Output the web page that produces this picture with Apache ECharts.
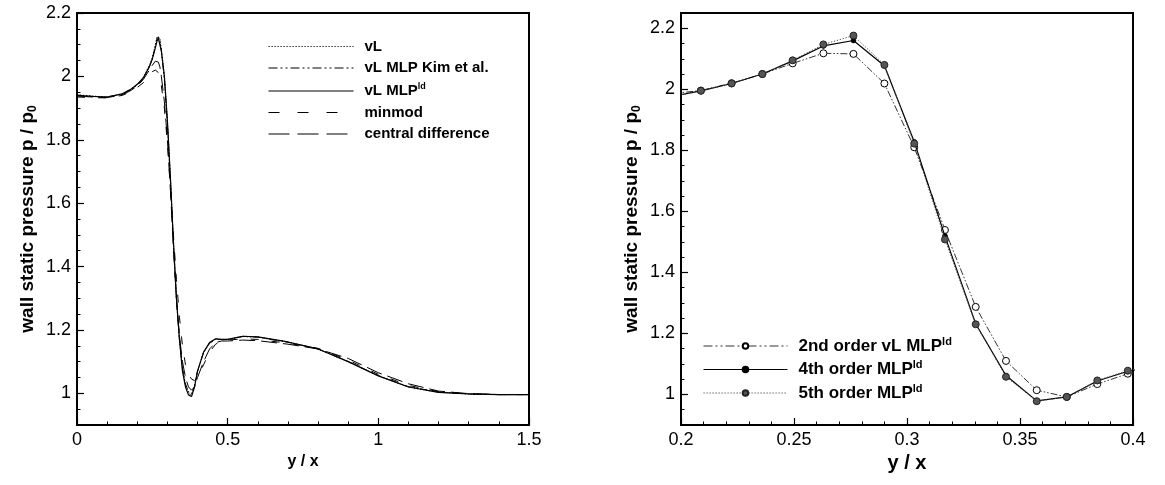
<!DOCTYPE html>
<html><head><meta charset="utf-8">
<script src="https://cdn.jsdelivr.net/npm/echarts@6/dist/echarts.min.js"></script>
<style>html,body{margin:0;padding:0;background:#fff}#c{width:1165px;height:485px}</style>
</head><body><div id="c"></div>
<script>
// ---------- left panel data ----------
const xLeft = [0, 0.05, 0.1, 0.15, 0.18, 0.2, 0.22, 0.24, 0.25, 0.26, 0.265, 0.27, 0.275, 0.28, 0.29, 0.30, 0.31, 0.32, 0.33, 0.34, 0.35, 0.36, 0.37, 0.38, 0.39, 0.40, 0.42, 0.44, 0.46, 0.48, 0.5, 0.55, 0.6, 0.7, 0.8, 0.9, 1.0, 1.1, 1.2, 1.3, 1.4, 1.5];
const vL        = [1.942, 1.938, 1.935, 1.945, 1.96, 1.975, 1.997, 2.035, 2.06, 2.10, 2.125, 2.13, 2.12, 2.085, 2.0, 1.86, 1.68, 1.48, 1.30, 1.17, 1.075, 1.025, 1.0, 0.995, 1.02, 1.07, 1.13, 1.16, 1.172, 1.17, 1.17, 1.18, 1.178, 1.162, 1.14, 1.10, 1.055, 1.02, 1.003, 0.998, 0.996, 0.996];
const vLKim     = [1.941, 1.937, 1.935, 1.944, 1.958, 1.973, 1.995, 2.03, 2.055, 2.095, 2.118, 2.125, 2.115, 2.08, 1.99, 1.85, 1.67, 1.47, 1.295, 1.17, 1.08, 1.03, 1.005, 1.0, 1.022, 1.07, 1.128, 1.158, 1.17, 1.169, 1.17, 1.179, 1.177, 1.161, 1.14, 1.10, 1.056, 1.021, 1.004, 0.998, 0.996, 0.996];
const vLMLPld   = [1.94, 1.937, 1.935, 1.945, 1.96, 1.975, 1.995, 2.03, 2.055, 2.09, 2.11, 2.12, 2.115, 2.08, 2.0, 1.86, 1.68, 1.48, 1.30, 1.17, 1.07, 1.02, 0.995, 0.99, 1.02, 1.07, 1.13, 1.16, 1.172, 1.17, 1.17, 1.18, 1.178, 1.162, 1.14, 1.10, 1.055, 1.02, 1.003, 0.998, 0.996, 0.996];
const minmod    = [1.935, 1.933, 1.932, 1.94, 1.952, 1.965, 1.98, 2.005, 2.015, 2.02, 2.02, 2.012, 2.0, 1.97, 1.90, 1.79, 1.65, 1.50, 1.36, 1.24, 1.15, 1.09, 1.06, 1.045, 1.04, 1.05, 1.09, 1.13, 1.155, 1.165, 1.168, 1.172, 1.17, 1.158, 1.142, 1.105, 1.06, 1.025, 1.005, 0.998, 0.996, 0.996];
const central   = [1.938, 1.935, 1.933, 1.942, 1.956, 1.97, 1.99, 2.02, 2.035, 2.048, 2.05, 2.045, 2.03, 2.0, 1.92, 1.80, 1.64, 1.46, 1.30, 1.18, 1.10, 1.05, 1.02, 1.01, 1.02, 1.05, 1.10, 1.14, 1.16, 1.165, 1.165, 1.168, 1.166, 1.155, 1.14, 1.11, 1.065, 1.03, 1.007, 0.999, 0.996, 0.996];

// ---------- right panel data ----------
const xRight = [0.1952, 0.2088, 0.2224, 0.236, 0.2494, 0.263, 0.2763, 0.29, 0.3032, 0.3168, 0.3304, 0.3438, 0.3574, 0.3707, 0.3842, 0.3977, 0.4112];
const order2 = [1.985, 1.996, 2.02, 2.05, 2.085, 2.118, 2.116, 2.019, 1.81, 1.539, 1.287, 1.11, 1.014, 0.992, 1.034, 1.068, 1.09];
const order4 = [1.975, 1.995, 2.019, 2.05, 2.093, 2.142, 2.16, 2.077, 1.828, 1.519, 1.232, 1.062, 0.979, 0.992, 1.044, 1.076, 1.095];
const order5 = [1.975, 1.995, 2.019, 2.05, 2.095, 2.147, 2.176, 2.08, 1.822, 1.508, 1.23, 1.058, 0.978, 0.992, 1.046, 1.078, 1.097];

// ---------- ticks ----------
const yMajorTicks = [1, 1.2, 1.4, 1.6, 1.8, 2, 2.2];
const yMinorTicks = [0.95, 1.05, 1.1, 1.15, 1.25, 1.3, 1.35, 1.45, 1.5, 1.55, 1.65, 1.7, 1.75, 1.85, 1.9, 1.95, 2.05, 2.1, 2.15];

const FONT = '"Liberation Sans", Arial, Helvetica, sans-serif';
const pair = (xs, ys) => xs.map((x, i) => [x, ys[i]]);
const supFmt = n => n.replace('^ld', '{sup|ld}');

const DOT = [1.2, 1.8], DASHDOT = [7, 2, 1.5, 2, 1.5, 2], SHORTDASH = [8, 13], LONGDASH = [16, 6];
const LEG_SHORTDASH = [11, 18], LEG_LONGDASH = [21, 8], LEG_DASHDOT = [9, 3, 2, 3, 2, 3];

const grids = [
  { left: 77, top: 13, width: 452, height: 412, show: true, borderColor: '#000', borderWidth: 2, containLabel: false },
  { left: 681, top: 13, width: 452, height: 412, show: true, borderColor: '#000', borderWidth: 2, containLabel: false }
];

function xAx(gi, min, max, interval, nameSize, nameGap) {
  return {
    type: 'value', gridIndex: gi, min, max, interval,
    name: 'y / x', nameLocation: 'middle', nameGap,
    nameTextStyle: { fontFamily: FONT, fontWeight: 'bold', fontSize: nameSize, color: '#000' },
    axisLine: { show: true, lineStyle: { color: '#000', width: 2 } },
    axisTick: { show: true, inside: true, length: 7, lineStyle: { color: '#000', width: 1.2 } },
    minorTick: { show: true, splitNumber: 5, length: 3.5, lineStyle: { color: '#000', width: 1 } },
    axisLabel: { fontFamily: FONT, fontSize: 18, color: '#000', margin: 6 },
    splitLine: { show: false }, minorSplitLine: { show: false }
  };
}
function yMajor(gi, max) {
  return {
    type: 'value', gridIndex: gi, min: 0.9, max, position: 'left',
    name: 'wall static pressure p / p{sub|0}', nameLocation: 'middle', nameGap: 38,
    nameTextStyle: { fontFamily: FONT, fontWeight: 'bold', fontSize: 19, color: '#000',
      rich: { sub: { fontFamily: FONT, fontWeight: 'bold', fontSize: 12, color: '#000', padding: [10, 0, 0, 0] } } },
    axisLine: { show: true, lineStyle: { color: '#000', width: 2 } },
    axisTick: { show: true, inside: true, length: 7, customValues: yMajorTicks, lineStyle: { color: '#000', width: 1.2 } },
    axisLabel: { fontFamily: FONT, fontSize: 18, color: '#000', margin: 6, customValues: yMajorTicks },
    splitLine: { show: false }
  };
}
function yMinor(gi, max) {
  return {
    type: 'value', gridIndex: gi, min: 0.9, max, position: 'left', offset: 0,
    axisLine: { show: false },
    axisTick: { show: true, inside: true, length: 3.5, customValues: yMinorTicks, lineStyle: { color: '#000', width: 1 } },
    axisLabel: { show: false }, splitLine: { show: false }
  };
}

const lineBase = { type: 'line', showSymbol: false, symbol: 'none', animation: false, z: 3, itemStyle: { color: '#000' } };
const series = [
  Object.assign({}, lineBase, { name: 'vL', xAxisIndex: 0, yAxisIndex: 0, data: pair(xLeft, vL),
    lineStyle: { color: '#000', width: 1, type: DOT } }),
  Object.assign({}, lineBase, { name: 'vL MLP Kim et al.', xAxisIndex: 0, yAxisIndex: 0, data: pair(xLeft, vLKim),
    lineStyle: { color: '#000', width: 1, type: DASHDOT } }),
  Object.assign({}, lineBase, { name: 'vL MLP^ld', xAxisIndex: 0, yAxisIndex: 0, data: pair(xLeft, vLMLPld),
    lineStyle: { color: '#000', width: 1.2, type: 'solid' } }),
  Object.assign({}, lineBase, { name: 'minmod', xAxisIndex: 0, yAxisIndex: 0, data: pair(xLeft, minmod),
    lineStyle: { color: '#000', width: 1, type: SHORTDASH } }),
  Object.assign({}, lineBase, { name: 'central difference', xAxisIndex: 0, yAxisIndex: 0, data: pair(xLeft, central),
    lineStyle: { color: '#000', width: 1, type: LONGDASH } }),
  { type: 'line', name: '2nd order vL MLP^ld', xAxisIndex: 1, yAxisIndex: 2, data: pair(xRight, order2), animation: false,
    symbol: 'circle', symbolSize: 7, showSymbol: true,
    itemStyle: { color: '#fff', borderColor: '#000', borderWidth: 1 },
    lineStyle: { color: '#333', width: 1, type: DASHDOT }, z: 3 },
  { type: 'line', name: '4th order MLP^ld', xAxisIndex: 1, yAxisIndex: 2, data: pair(xRight, order4), animation: false,
    symbol: 'circle', symbolSize: 5, showSymbol: true,
    itemStyle: { color: '#000', borderColor: '#000', borderWidth: 0.5 },
    lineStyle: { color: '#000', width: 1.2, type: 'solid' }, z: 4 },
  { type: 'line', name: '5th order MLP^ld', xAxisIndex: 1, yAxisIndex: 2, data: pair(xRight, order5), animation: false,
    symbol: 'circle', symbolSize: 7, showSymbol: true,
    itemStyle: { color: '#555', borderColor: '#222', borderWidth: 1 },
    lineStyle: { color: '#444', width: 1, type: DOT }, z: 5 }
];

const legendText = (size) => ({ fontFamily: FONT, fontWeight: 'bold', fontSize: size, color: '#000', padding: [0, 0, 0, 6],
  rich: { sup: { fontFamily: FONT, fontWeight: 'bold', fontSize: Math.round(size * 0.62), color: '#000', padding: [0, 0, 9, 0] } } });
const legItem = (name, type, color) => ({ name, lineStyle: { type, width: 1, color: color || '#000' } });

const option = {
  animation: false,
  backgroundColor: '#fff',
  grid: grids,
  xAxis: [xAx(0, 0, 1.5, 0.5, 16, 26), xAx(1, 0.2, 0.4, 0.05, 20, 28)],
  yAxis: [yMajor(0, 2.2), yMinor(0, 2.2), yMajor(1, 2.25), yMinor(1, 2.25)],
  legend: [
    { data: [legItem('vL', DOT), legItem('vL MLP Kim et al.', LEG_DASHDOT), legItem('vL MLP^ld', 'solid'),
             legItem('minmod', LEG_SHORTDASH), legItem('central difference', LEG_LONGDASH)],
      orient: 'vertical', left: 263, top: 34, itemWidth: 85, itemHeight: 14, itemGap: 6.5, selectedMode: false,
      itemStyle: { opacity: 0, borderWidth: 0 },
      formatter: supFmt, textStyle: legendText(15) },
    { data: [legItem('2nd order vL MLP^ld', LEG_DASHDOT, '#333'), legItem('4th order MLP^ld', 'solid'), legItem('5th order MLP^ld', DOT, '#444')],
      orient: 'vertical', left: 698, top: 331, itemWidth: 84, itemHeight: 7, itemGap: 5, selectedMode: false,
      formatter: supFmt, textStyle: legendText(17) }
  ],
  series
};
const chart = echarts.init(document.getElementById('c'), null, { renderer: 'canvas' });
chart.setOption(option);
</script></body></html>
